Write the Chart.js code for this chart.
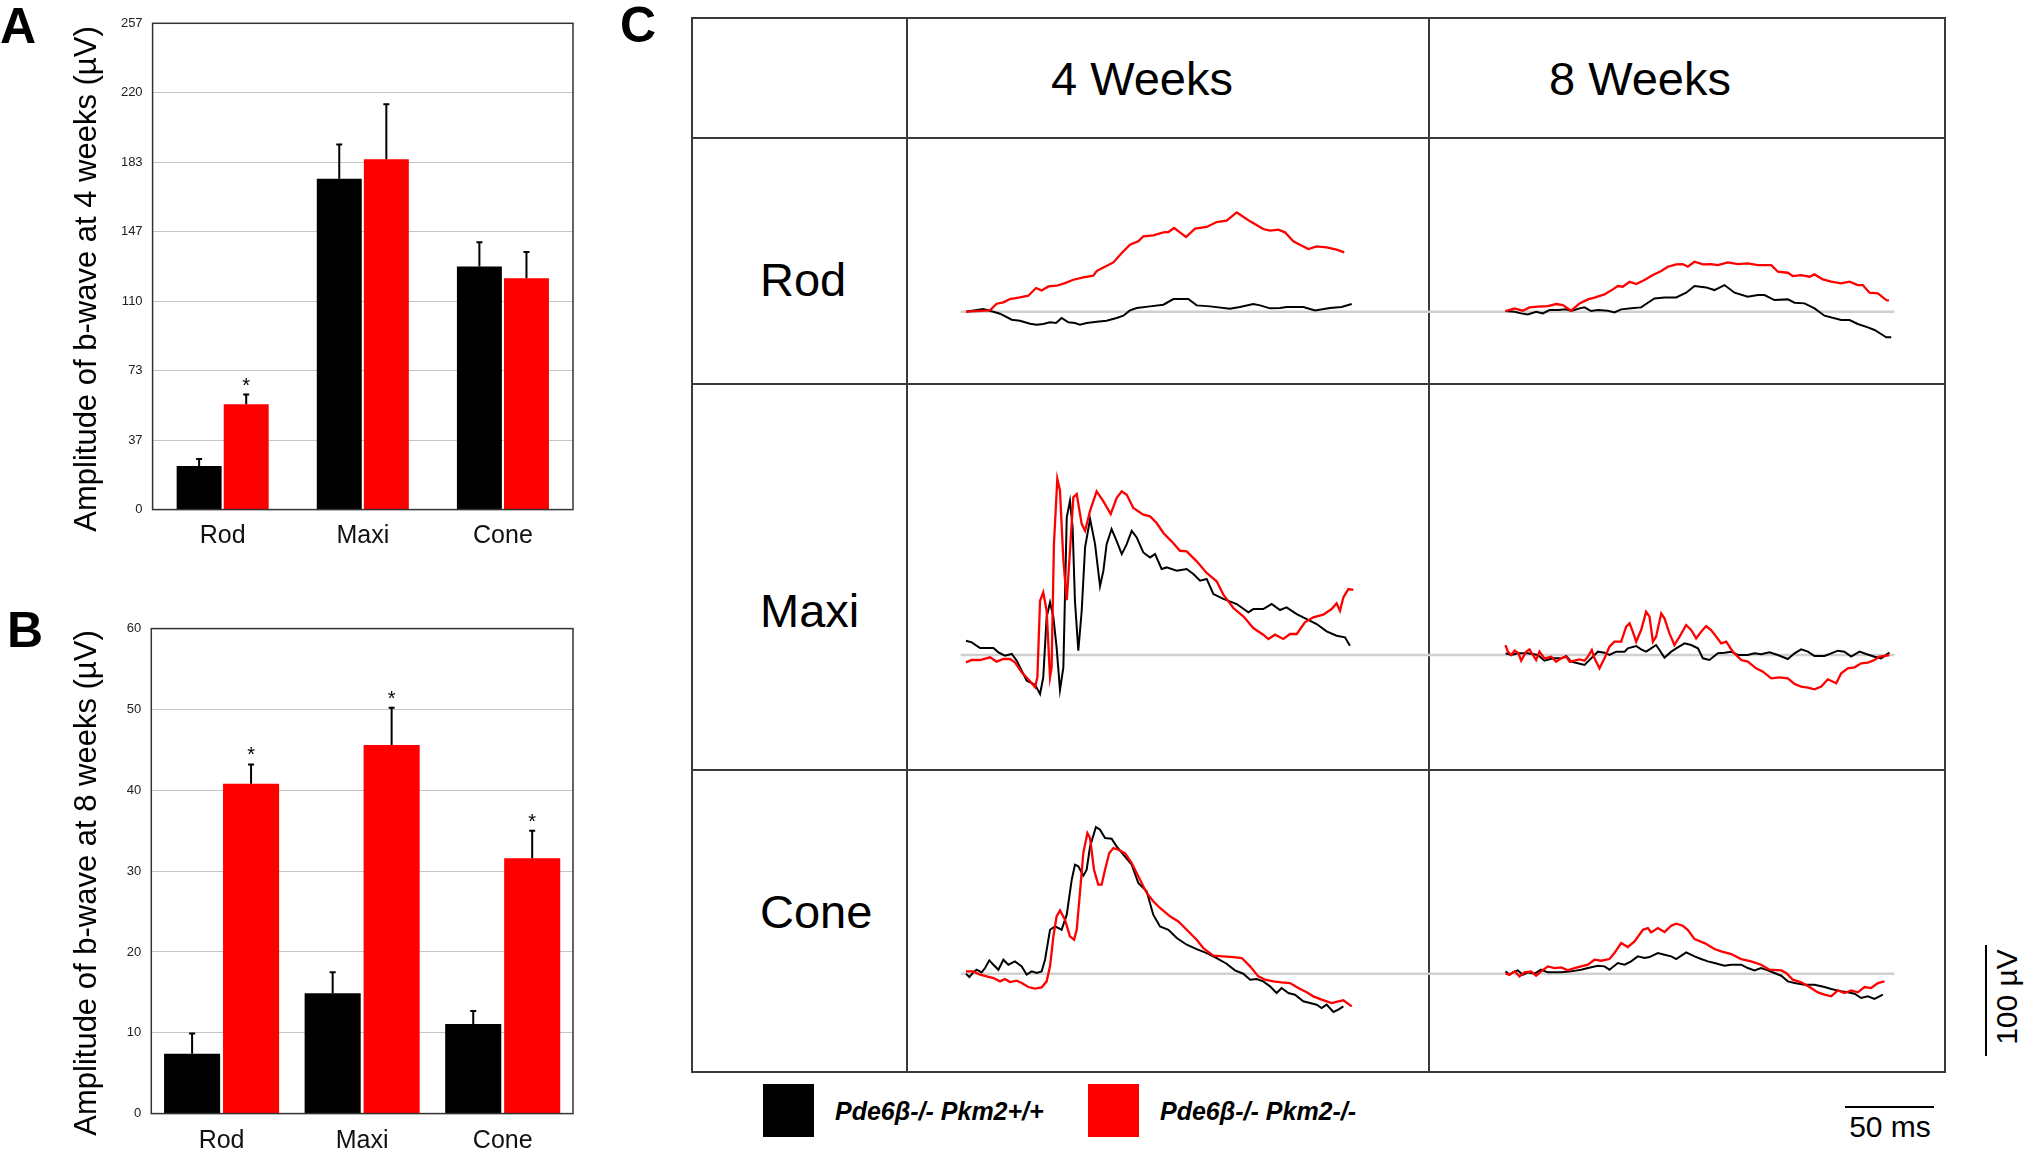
<!DOCTYPE html>
<html><head><meta charset="utf-8">
<script src="https://cdn.jsdelivr.net/npm/chart.js@4.4.1/dist/chart.umd.min.js"></script>
<style>
html,body{margin:0;padding:0;background:#fff;}
body{width:2028px;height:1150px;position:relative;overflow:hidden;font-family:'Liberation Sans',Arial,sans-serif;color:#000;}
.t{position:absolute;white-space:nowrap;line-height:1;}
.rot{position:absolute;white-space:nowrap;line-height:1;transform:translate(-50%,-50%) rotate(-90deg);}
canvas{position:absolute;}
.ln{position:absolute;background:#3a3a3a;}
.box{position:absolute;}
</style></head><body>
<script>
// ---------------- DATA ----------------
const categories = ['Rod', 'Maxi', 'Cone'];
const seriesNames = ['Pde6β-/- Pkm2+/+', 'Pde6β-/- Pkm2-/-'];
// Panel A: b-wave amplitude at 4 weeks (µV)
const wk4_wt = [23.0, 174.9, 128.5];
const wk4_wt_err = [3.8, 18.1, 12.8];
const wk4_ko = [55.7, 185.1, 122.3];
const wk4_ko_err = [5.1, 29.1, 13.9];
const wk4_ko_sig = [true, false, false];
const yTicks4 = ['0', '37', '73', '110', '147', '183', '220', '257'];
const yMax4 = 257;
// Panel B: b-wave amplitude at 8 weeks (µV)
const wk8_wt = [7.4, 14.9, 11.1];
const wk8_wt_err = [2.5, 2.6, 1.6];
const wk8_ko = [40.8, 45.6, 31.6];
const wk8_ko_err = [2.4, 4.6, 3.4];
const wk8_ko_sig = [true, true, true];
const yTicks8 = ['0', '10', '20', '30', '40', '50', '60'];
const yMax8 = 60;
// Panel C: ERG traces [time ms, amplitude µV]
const rod4wWT = [[0,0],[9.7,2.4],[15.4,0],[19.1,-1.8],[25.7,-7.2],[30.3,-8.1],[36,-10.8],[39.7,-11.7],[43.4,-11.1],[47.2,-9.6],[50.6,-10.2],[53.7,-5.7],[57.5,-9.6],[61.2,-10.2],[64,-11.7],[67.8,-10.2],[73.4,-9],[79,-8.1],[84.6,-5.7],[88.4,-3.6],[92.1,1.2],[95.9,3.3],[103.4,4.8],[110.9,6.3],[116.5,11.4],[124.9,11.4],[129.6,5.7],[137.1,4.8],[148.3,2.7],[153.9,4.2],[161.4,6.9],[165.2,5.7],[170.8,3],[176.4,3.3],[180.1,4.2],[189.5,4.2],[196.1,1.2],[204.5,3.3],[211,4.2],[216.7,6.9]];
const rod4wKO = [[0,0],[6,0.6],[13.5,1.2],[17.2,7.2],[21,8.4],[24.7,11.4],[30.3,12.9],[35,14.4],[39.3,21.3],[42.5,19.2],[46.3,22.8],[50.9,23.4],[55.6,25.8],[60.3,28.8],[65.9,30.9],[71.5,32.4],[73.4,36.6],[77.2,39.9],[82.8,44.4],[87.5,52.9],[92.1,60.4],[96.8,63.4],[99.6,67.9],[105.2,68.8],[110.9,71.5],[113.7,71.8],[116.9,75.4],[120.2,71.5],[123.6,67.3],[128.7,74.8],[135.2,76.3],[140.8,80.8],[146.4,82],[152.1,89.5],[154.9,86.5],[159.6,81.4],[167,74.5],[170.8,73],[175.5,73.9],[179.2,71.5],[183.9,63.4],[187.6,60.4],[192.3,56.5],[197,58.9],[202.6,58],[208.2,55.9],[212.5,53.5]];
const rod8wWT = [[0,0.6],[5.1,0],[8.8,-1.5],[12.5,-2.4],[17.2,0],[21,-1.5],[24.7,1.5],[29.4,1.5],[34.1,2.1],[36.9,0.6],[41.6,3],[44.4,3.9],[48.1,0.6],[51.9,1.5],[57.5,0.9],[61.2,-0.6],[65,2.1],[70.6,3],[76.2,3.9],[80,8.1],[83.7,12],[89.3,12.9],[95.9,12.9],[101.5,17.1],[106.2,23.1],[112.7,21.9],[117.4,19.5],[123,24],[128.7,17.1],[136.1,13.5],[141.8,15],[145.5,15],[151.1,10.5],[158.6,11.1],[162.4,8.1],[168,7.5],[173.6,3],[179.2,-3.6],[188.6,-7.5],[193.3,-7.5],[197.9,-11.1],[203.6,-14.1],[207.3,-16.5],[211,-20.1],[213.9,-23.1],[216.7,-23.1]];
const rod8wKO = [[0,0.6],[5.1,3],[9.7,0.9],[13.5,3.9],[18.2,4.5],[23.8,5.1],[28.5,6.9],[32.2,6],[36.9,0.9],[41.6,7.5],[46.3,11.1],[50,12.6],[55.6,15.6],[60.3,20.1],[63.1,23.1],[65.9,22.5],[69.7,27],[73.4,24.9],[78.1,28.5],[82.8,33],[87.5,36.6],[91.2,40.5],[95.9,42.6],[99.6,42.9],[102.4,40.5],[106.2,45],[110.9,42.6],[115.5,42.9],[119.3,42],[124.9,44.4],[130.5,42.9],[136.1,43.5],[141.8,42],[149.3,42],[153,36],[158.6,35.1],[161.4,32.1],[166.1,33],[170.8,31.5],[173.6,33.6],[178.3,29.1],[183,27],[188.6,25.5],[193.3,27],[197.9,24],[200.7,24],[204.5,17.1],[209.2,16.5],[213.9,10.5],[215.4,9.9]];
const maxi4wWT = [[0,12.9],[3.2,11.4],[7.9,6.3],[15.4,6.3],[18.2,2.4],[21.9,-0.6],[25.7,0.9],[28.5,-5.1],[31.3,-14.1],[34.1,-23.1],[38.8,-26.7],[41.6,-35.1],[43.4,-20.1],[45.3,33.9],[47.2,47.4],[49.1,33.9],[50.9,6.9],[52.8,-31.5],[54.7,-11.1],[56.6,124],[58.4,138.9],[59.9,114.9],[61.2,48.9],[63.1,3.9],[65,39.9],[66.9,96.9],[69.7,122.5],[72.5,99.9],[75.3,61.9],[77.2,76],[79,99.9],[81.8,113.5],[84.6,102.9],[87.5,90.9],[90.3,99.9],[93.1,111.9],[95.9,105.9],[99.6,92.4],[103.4,87.9],[106.2,90.9],[109.9,77.5],[112.7,78.9],[118.4,75.9],[124,77.5],[127.7,72.9],[131.5,66.9],[135.2,68.5],[139,54.9],[144.6,50.5],[152.1,45.9],[158.6,38.4],[161.4,41.4],[167,41.4],[171.7,45.9],[176.4,40.5],[180.1,42.9],[185.8,36.9],[191.4,32.4],[197,27.9],[202.6,21.3],[208.2,17.4],[212.9,15.9],[215.7,8.4]];
const maxi4wKO = [[0,-6.6],[3.2,-4.5],[7.9,-4.5],[13.5,-2.1],[17.2,-6],[21,-3.6],[24.7,-3.6],[27.5,-6.6],[31.3,-15.6],[36,-23.7],[38.8,-29.1],[40.1,-20.1],[41.6,48.9],[43.4,56.5],[45.3,39.9],[47.2,-20.1],[48.1,-11.1],[49.4,100],[51.3,158.6],[52.8,148],[54.7,85.6],[56.6,49.5],[58.1,85.6],[60.3,142],[62.2,145],[65,117.9],[66.9,111.9],[69.7,129.9],[73.4,147.4],[77.2,138.4],[81.3,127],[84.6,141.4],[87.5,147.4],[90.3,144.4],[94,132.4],[99.6,126.4],[103.4,124.9],[107.1,118.9],[110.9,109.9],[115.5,102.4],[120.2,93.9],[124,93.4],[129.6,84.4],[135.2,73.9],[140.8,66.4],[144.6,54.4],[150.2,42.3],[155.8,34.8],[161.4,24.3],[167,18.3],[169.9,14.4],[173.6,18.3],[178.3,14.4],[182,18.9],[185.8,18.9],[190.4,29.4],[195.1,33.9],[200.7,36.3],[205.4,41.4],[208.2,46.5],[210.1,39.9],[212,51.9],[214.8,59.4],[217.6,58.6]];
const maxi8wWT = [[0,1.5],[3.2,0],[6.9,1.5],[12.5,1.5],[18.2,0],[21.9,-5.1],[26.6,-3],[31.3,-3],[34.1,-0.9],[36.9,-6],[40.6,-7.5],[44.4,-9],[48.1,-3],[51.9,3],[55.6,2.1],[58.4,0],[62.2,3],[66.9,3],[68.7,6],[73.4,8.1],[76.2,5.1],[79,3],[81.8,6],[84.6,9],[86.5,4.5],[89.3,-2.4],[93.1,3],[96.8,6.9],[100.6,10.5],[104.3,9],[108.1,6],[110.9,-3],[114.6,-4.5],[119.3,1.5],[123,2.1],[126.8,3],[130.5,0],[136.1,0],[139.9,1.5],[143.6,0.6],[148.3,2.4],[153,0],[158.6,-3.6],[162.4,1.5],[166.1,5.1],[169.9,3],[173.6,-0.9],[179.2,-0.9],[183,1.5],[186.7,3.9],[190.4,3],[194.2,-1.5],[198.9,3],[202.6,0.9],[207.3,-1.5],[211,-3],[215.7,2.1]];
const maxi8wKO = [[0,9],[1.3,3],[3.2,0],[5.1,3.9],[7.3,1.5],[8.8,-5.1],[11.6,3],[13.5,5.1],[15.4,0],[17.2,-4.5],[19.1,3],[21.9,-3],[25.7,-1.5],[28.5,-6],[31.3,-3],[34.1,-1.5],[36,-6],[38.8,-5.1],[41.6,-3.9],[44.4,-5.1],[46.3,-1.5],[48.5,4.5],[50,-3],[52.8,-12],[55.6,-3],[58.4,7.5],[61.2,12],[65,12],[67.8,25.5],[69.7,28.5],[71.5,21],[73.4,12],[76.2,22.5],[79,39],[80.9,34.5],[82.8,12],[84.6,16.5],[87.5,37.5],[89.3,33],[92.1,19.5],[94.9,9],[97.8,16.5],[101.5,27],[104.3,22.5],[107.1,15],[109.9,21],[112.7,26.1],[115.5,22.5],[118.4,16.5],[121.2,10.5],[124,12],[127.7,3],[132.4,-4.5],[136.1,-6],[140.8,-12],[144.6,-15],[149.3,-21],[154,-20.1],[158.6,-21],[162.4,-26.1],[166.1,-28.5],[169.9,-29.4],[173.6,-30.9],[177.4,-28.5],[181.1,-21.9],[185.8,-25.5],[188.6,-16.5],[192.3,-12],[196.1,-11.1],[199.8,-7.5],[203.6,-6.9],[207.3,-4.5],[210.1,-1.5],[212.9,-0.9],[215.7,0]];
const cone4wWT = [[0,0],[1.9,-3],[4.1,1.2],[6,3.6],[8.8,1.2],[10.7,5.1],[13.1,12],[15.4,8.1],[18.2,3.6],[21,12.6],[23.8,8.1],[27.5,11.1],[31.3,6.6],[34.1,-0.9],[36.9,2.1],[39.7,0.6],[42.5,2.1],[44.4,12.6],[47.2,39.6],[50,42.6],[53.7,39.6],[56.6,53.2],[59.4,84.7],[61.2,98.2],[63.1,96.7],[65.9,88.3],[67.8,93.7],[69.7,114.7],[73,132.1],[75.3,129.7],[78.1,122.2],[81.8,121.6],[84.6,114.7],[88.4,107.2],[93.1,98.2],[96.8,81.7],[101.5,74.2],[105.2,53.2],[109,42.6],[113.7,39.6],[118.4,32.1],[124,26.1],[129.6,22.2],[135.2,18.6],[140.8,14.1],[146.4,9],[151.1,3],[155.8,0],[159.6,-5.4],[163.3,-4.8],[167,-6.9],[170.8,-11.4],[174.5,-17.4],[177.3,-12.9],[181.1,-17.4],[184.8,-18.9],[189.5,-24.9],[193.3,-26.4],[197,-27.9],[199.8,-30.9],[202.6,-27.9],[206.4,-34.5],[209.2,-32.4],[212,-29.4]];
const cone4wKO = [[0,2.1],[4.1,2.1],[7.9,-0.9],[11.6,-2.4],[15.4,-3.9],[19.1,-6.9],[21.9,-4.8],[24.7,-7.5],[28.5,-6.3],[31.3,-8.4],[35,-12],[38.8,-13.5],[42.5,-12.3],[45.3,-6.9],[47.2,6.6],[49.1,33.6],[50.9,51.7],[52.8,57.1],[55.6,48.6],[58.4,33.6],[60.7,30.6],[62.2,39.6],[64,72.7],[65.9,108.7],[68.2,126.7],[69.7,122.2],[71.9,93.7],[74.3,80.2],[76.2,80.2],[78.1,93.7],[80.5,108.7],[82.8,113.2],[85.6,111.7],[89.3,108.7],[93.1,99.7],[96.8,87.7],[101.5,72.7],[105.2,65.2],[109,59.2],[114.6,51.7],[119.3,47.1],[124,39.6],[129.6,30.6],[133.3,23.1],[138.9,16.2],[144.6,15.6],[150.2,15],[154.9,14.1],[159.6,6.6],[164.2,-2.4],[168,-5.4],[172.7,-6.9],[177.3,-7.8],[182,-8.4],[186.7,-12.9],[191.4,-16.8],[195.1,-20.4],[199.8,-23.4],[205.4,-26.4],[209.2,-24.9],[212,-24],[216.7,-29.4]];
const cone8wWT = [[0,2.1],[2.2,-0.9],[4.1,1.2],[6.9,3],[9.7,-0.9],[12.5,1.2],[16.3,0],[20,3.6],[23.8,1.2],[31.3,1.2],[36.9,2.1],[42.5,3.6],[46.3,5.1],[51.9,7.2],[55.6,6.6],[58.4,3.6],[63.1,9.6],[66.9,8.1],[70.6,11.1],[74.3,15.6],[78.1,14.1],[80.9,15],[85.6,18.6],[89.3,17.1],[93.1,15.6],[95.9,13.2],[101.5,19.2],[106.2,15.6],[109.9,13.2],[113.7,11.1],[117.4,9.6],[123,7.2],[126.8,8.1],[132.4,8.1],[136.1,5.1],[139.9,3],[143.6,5.1],[147.4,3],[151.1,0.6],[154.9,-1.8],[158.6,-6.9],[162.4,-8.4],[168,-9.9],[173.6,-9.9],[179.2,-12],[183,-13.8],[188.6,-15.9],[192.3,-16.8],[196.1,-18],[199.8,-21.9],[203.6,-20.4],[207.3,-22.8],[212,-18.9]];
const cone8wKO = [[0,0],[2.2,-0.9],[5.1,2.1],[7.9,-2.4],[10.7,1.2],[14.4,2.1],[17.2,-1.8],[20,2.1],[23.8,6.6],[27.5,5.1],[31.3,5.7],[35,3],[38.8,5.1],[42.5,6.6],[46.3,8.1],[50,12.6],[53.7,11.7],[58.4,13.2],[61.2,18.6],[65,27.6],[68.7,24],[72.5,29.1],[77.2,39.6],[80,41.1],[81.8,37.2],[85.6,41.1],[89.3,37.5],[93.1,43.2],[95.9,45],[99.6,43.2],[102.4,39.6],[106.2,31.2],[111.8,27.6],[117.4,22.2],[121.2,20.1],[126.8,17.7],[132.4,13.2],[138,11.1],[143.6,8.1],[148.3,3.6],[154.9,3],[157.7,0.6],[161.4,-5.4],[166.1,-7.8],[170.8,-12],[175.5,-16.8],[179.2,-18.9],[183,-20.4],[186.7,-15],[190.4,-17.4],[194.2,-15],[197.9,-16.8],[201.7,-12],[205.4,-12.9],[209.2,-8.4],[212.9,-6.9]];
const zeroLineStart = -3, zeroLineEnd = 218.5; // ms, grey 0 µV reference
const scaleBarUV = 100, scaleBarMS = 50;

// ---------------- HELPERS ----------------
Chart.defaults.font.family = "'Liberation Sans', Arial, sans-serif";
const ASC = 0.8465;
function addText(txt, x, baseline, size, o = {}) {
  const d = document.createElement('div'); d.className = 't'; d.textContent = txt;
  d.style.fontSize = size + 'px'; d.style.top = (baseline - ASC * size) + 'px'; d.style.left = x + 'px';
  if (o.center) d.style.transform = 'translateX(-50%)';
  if (o.weight) d.style.fontWeight = o.weight;
  if (o.style) d.style.fontStyle = o.style;
  document.body.appendChild(d); return d;
}
function addRot(txt, cx, cy, size) {
  const d = document.createElement('div'); d.className = 'rot'; d.textContent = txt;
  d.style.fontSize = size + 'px'; d.style.left = cx + 'px'; d.style.top = cy + 'px';
  document.body.appendChild(d);
}
function addBox(cls, l, t, w, h, bg) {
  const d = document.createElement('div'); d.className = cls;
  Object.assign(d.style, {left: l + 'px', top: t + 'px', width: w + 'px', height: h + 'px'});
  if (bg) d.style.background = bg;
  document.body.appendChild(d);
}
function makeCanvas(l, t, w, h) {
  const c = document.createElement('canvas'); c.width = w; c.height = h;
  Object.assign(c.style, {left: l + 'px', top: t + 'px', width: w + 'px', height: h + 'px'});
  document.body.appendChild(c); return c;
}

const errorBarPlugin = {
  id: 'errbars',
  afterDatasetsDraw(chart) {
    const ctx = chart.ctx, ys = chart.scales.y;
    chart.data.datasets.forEach((ds, di) => {
      chart.getDatasetMeta(di).data.forEach((bar, i) => {
        const top = ys.getPixelForValue(ds.data[i] + ds.errors[i]);
        ctx.save(); ctx.strokeStyle = '#000'; ctx.lineWidth = 2;
        ctx.beginPath(); ctx.moveTo(bar.x, bar.y); ctx.lineTo(bar.x, top);
        ctx.moveTo(bar.x - 3, top); ctx.lineTo(bar.x + 3, top); ctx.stroke();
        if (ds.sig[i]) {
          ctx.fillStyle = '#000'; ctx.font = "20px 'Liberation Sans', Arial"; ctx.textAlign = 'center'; ctx.textBaseline = 'alphabetic';
          ctx.fillText('*', bar.x, top - 3);
        }
        ctx.restore();
      });
    });
    const a = chart.chartArea;
    ctx.save(); ctx.strokeStyle = '#333'; ctx.lineWidth = 1.5;
    ctx.strokeRect(a.left, a.top, a.right - a.left, a.bottom - a.top); ctx.restore();
  }
};

function barChart(g, wt, wtErr, ko, koErr, koSig, tickLabels, yMax) {
  const c = makeCanvas(0, g.top, 600, 560);
  const tickVals = tickLabels.map((_, i) => i * yMax / (tickLabels.length - 1));
  new Chart(c, {
    type: 'bar',
    data: { labels: categories, datasets: [
      {label: seriesNames[0], data: wt, errors: wtErr, sig: [false, false, false], backgroundColor: '#000000', categoryPercentage: g.cat, barPercentage: g.bar},
      {label: seriesNames[1], data: ko, errors: koErr, sig: koSig, backgroundColor: '#ff0000', categoryPercentage: g.cat, barPercentage: g.bar}
    ]},
    options: {
      responsive: false, animation: false, devicePixelRatio: 1, events: [],
      layout: {padding: {top: g.padTop, right: g.padRight, left: 0, bottom: 0}},
      plugins: {legend: {display: false}, tooltip: {enabled: false}},
      scales: {
        x: {grid: {display: false, drawTicks: false}, border: {display: false},
            ticks: {font: {size: 25}, color: '#111', padding: g.xPad}, afterFit(s) { s.height = g.xH; }},
        y: {min: 0, max: yMax, afterBuildTicks(s) { s.ticks = tickVals.map(v => ({value: v})); },
            ticks: {font: {size: 13}, color: '#222', padding: 10, callback: (v, i) => tickLabels[i]},
            grid: {color: '#c4c4c4', lineWidth: 1, drawTicks: false}, border: {display: false},
            afterFit(s) { s.width = g.yW; }}
      }
    },
    plugins: [errorBarPlugin]
  });
}

// ---------------- PANEL A / B ----------------
barChart({top: 0, padTop: 23.3, padRight: 27, yW: 152.6, xH: 50.4, xPad: 12, cat: 0.672, bar: 0.955},
  wk4_wt, wk4_wt_err, wk4_ko, wk4_ko_err, wk4_ko_sig, yTicks4, yMax4);
barChart({top: 590, padTop: 38.6, padRight: 27, yW: 151.3, xH: 36.4, xPad: 13, cat: 0.839, bar: 0.951},
  wk8_wt, wk8_wt_err, wk8_ko, wk8_ko_err, wk8_ko_sig, yTicks8, yMax8);
addRot('Amplitude of b-wave at 4 weeks (µV)', 85, 279, 31);
addRot('Amplitude of b-wave at 8 weeks (µV)', 85, 883, 31);
addText('A', 0, 43, 50, {weight: 'bold'});
addText('B', 7, 647, 50, {weight: 'bold'});
addText('C', 620, 42, 50, {weight: 'bold'});

// ---------------- PANEL C ----------------
const PX_PER_MS = 89 / 50, PX_PER_UV = 111 / 100;
const tblL = 692, tblR = 1945, tblT = 18, tblB = 1072;
[692, 907, 1429, 1945].forEach(x => addBox('ln', x - 0.75, tblT - 0.75, 1.5, tblB - tblT + 1.5));
[18, 138, 384, 770, 1072].forEach(y => addBox('ln', tblL - 0.75, y - 0.75, tblR - tblL + 1.5, 1.5));

const cols = [{left: 907, w: 522, t0: 966}, {left: 1429, w: 516, t0: 1505.5}];
const rows = [{top: 138, h: 246, base: 311.7}, {top: 384, h: 386, base: 655}, {top: 770, h: 302, base: 973.7}];
const traces = [[rod4wWT, rod4wKO, rod8wWT, rod8wKO], [maxi4wWT, maxi4wKO, maxi8wWT, maxi8wKO], [cone4wWT, cone4wKO, cone8wWT, cone8wKO]];
const pts = arr => arr.map(p => ({x: p[0], y: p[1]}));
rows.forEach((row, ri) => {
  cols.forEach((col, ci) => {
    const c = makeCanvas(col.left, row.top, col.w, row.h);
    const xmin = -(col.t0 - col.left) / PX_PER_MS, xmax = (col.left + col.w - col.t0) / PX_PER_MS;
    const ymax = (row.base - row.top) / PX_PER_UV, ymin = -(row.top + row.h - row.base) / PX_PER_UV;
    const z0 = ci === 0 ? zeroLineStart : xmin, z1 = ci === 0 ? xmax : zeroLineEnd;
    const wt = traces[ri][ci * 2], ko = traces[ri][ci * 2 + 1];
    new Chart(c, {
      type: 'scatter',
      data: {datasets: [
        {label: seriesNames[1], data: pts(ko), showLine: true, borderColor: '#ff0000', borderWidth: 2.3, pointRadius: 0, order: 1},
        {label: seriesNames[0], data: pts(wt), showLine: true, borderColor: '#000000', borderWidth: 2, pointRadius: 0, order: 2},
        {label: '0', data: [{x: z0, y: 0}, {x: z1, y: 0}], showLine: true, borderColor: '#d0d0d0', borderWidth: 2.5, pointRadius: 0, order: 3}
      ]},
      options: {responsive: false, animation: false, devicePixelRatio: 1, events: [],
        layout: {padding: 0},
        plugins: {legend: {display: false}, tooltip: {enabled: false}},
        scales: {x: {type: 'linear', min: xmin, max: xmax, display: false},
                 y: {type: 'linear', min: ymin, max: ymax, display: false}}}
    });
  });
});

addText('4 Weeks', 1142, 94.3, 47, {center: true});
addText('8 Weeks', 1640, 94.3, 47, {center: true});
addText('Rod', 760, 295.5, 47);
addText('Maxi', 760, 627, 47);
addText('Cone', 760, 928, 47);

// legend
addBox('box', 763, 1084, 51, 53, '#000000');
addBox('box', 1088, 1084, 51, 53, '#ff0000');
addText(seriesNames[0], 835, 1120, 25, {weight: 'bold', style: 'italic'});
addText(seriesNames[1], 1160, 1120, 25, {weight: 'bold', style: 'italic'});

// scale bars
const vLen = scaleBarUV * PX_PER_UV, hLen = scaleBarMS * PX_PER_MS;
addBox('box', 1985, 945, 2, vLen, '#000');
addBox('box', 1845, 1106, hLen, 2, '#000');
addText(scaleBarMS + ' ms', 1890, 1137, 30, {center: true});
addRot(scaleBarUV + ' µV', 2007, 997, 30);
</script>
</body></html>
